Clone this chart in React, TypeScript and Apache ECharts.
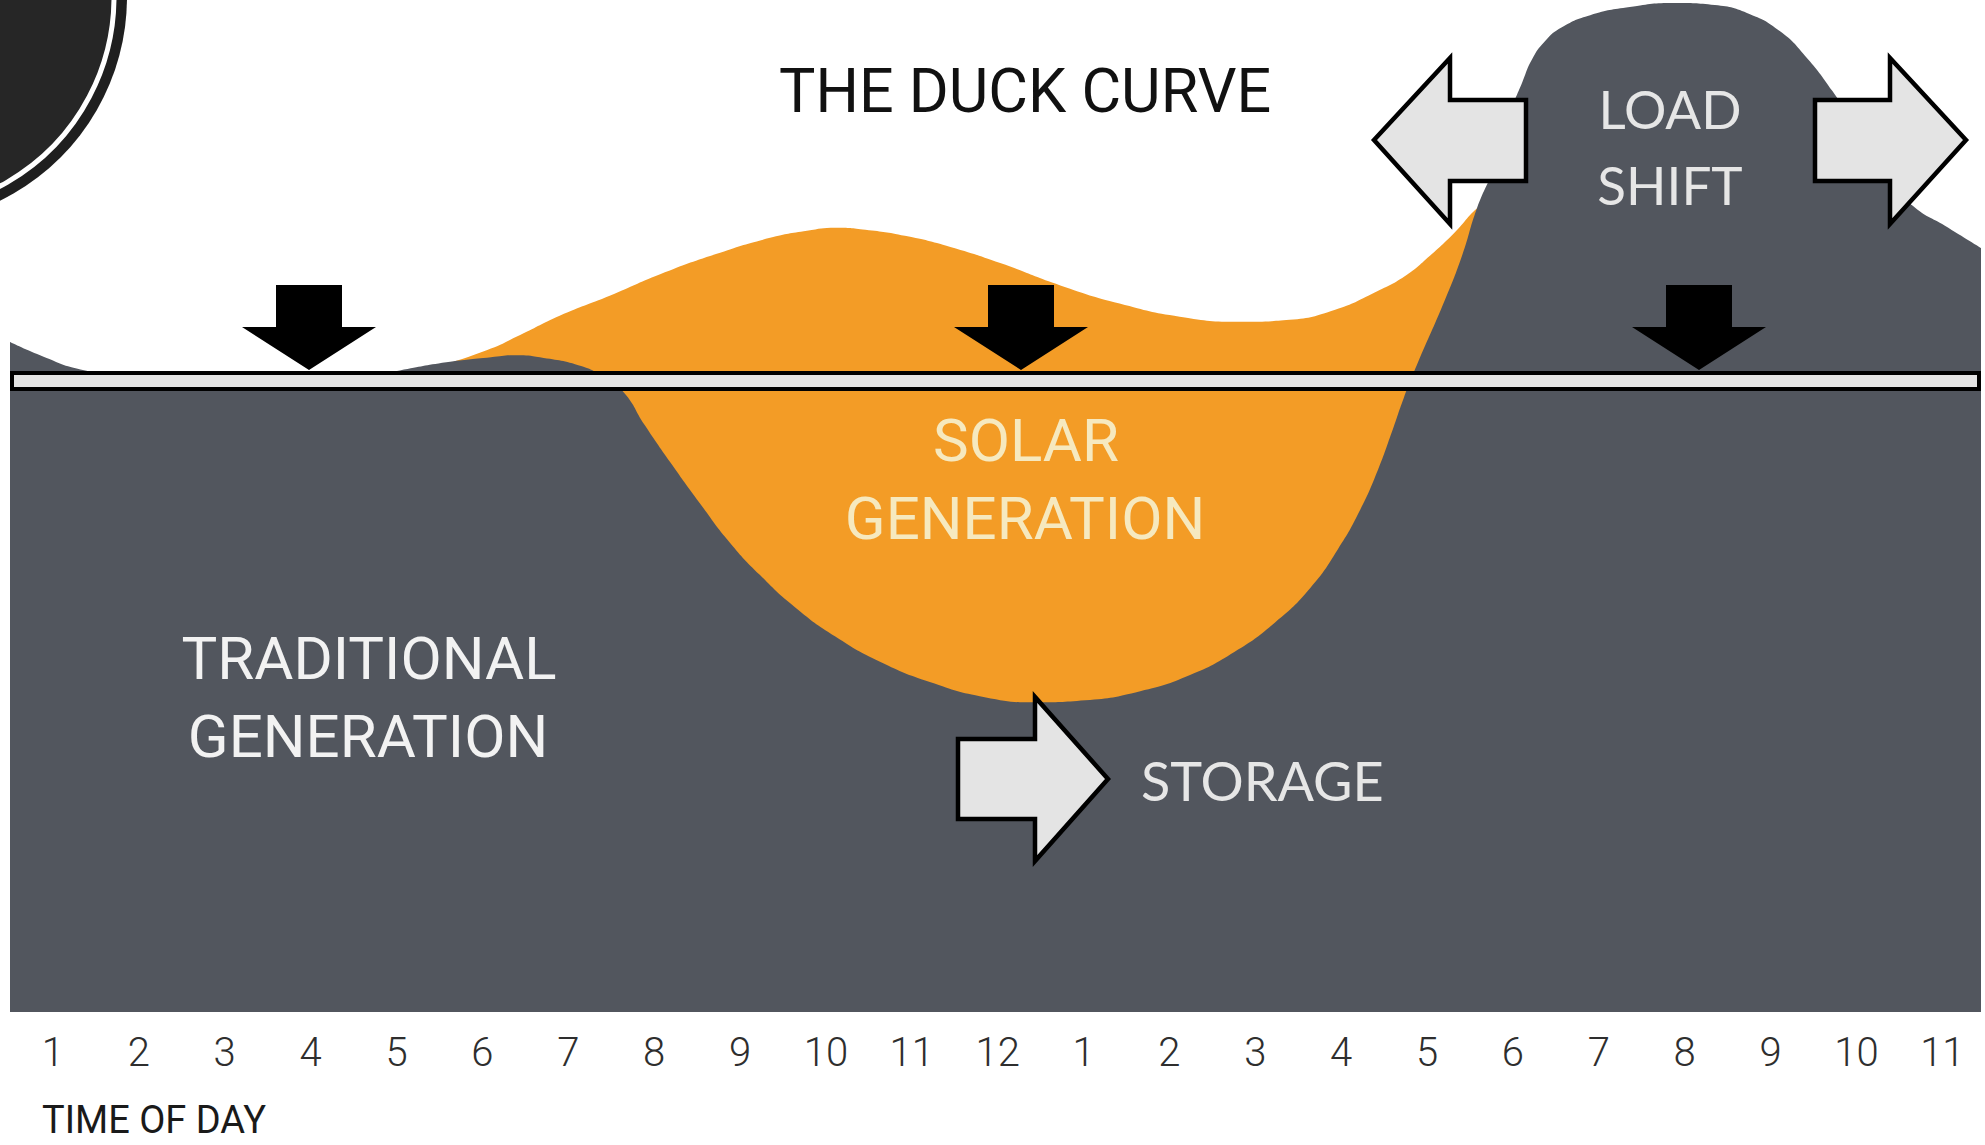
import React, { useEffect, useRef } from "react";
import * as echarts from "echarts";

// Hour positions of the tick labels and their clock text
const tickHours = [1, 2, 3, 4, 5, 6, 7, 8, 9, 10, 11, 12, 13, 14, 15, 16, 17, 18, 19, 20, 21, 22, 23];
const hourLabels = ["1", "2", "3", "4", "5", "6", "7", "8", "9", "10", "11", "12", "1", "2", "3", "4", "5", "6", "7", "8", "9", "10", "11"];

// Net load met by traditional generation (grey area) (0-100 scale)
const netLoadHours = [0.5, 0.85, 1.32, 2.13, 3.29, 4.46, 5.04, 5.58, 6.1, 6.4, 6.67, 7.16, 7.43, 7.65, 7.89, 8.19, 8.53, 8.88, 9.23, 9.64, 10.11, 10.63, 11.21, 11.85, 12.44, 13.02, 13.66, 14.24, 14.76, 15.23, 15.64, 15.96, 16.22, 16.43, 16.59, 16.73, 16.88, 17.21, 17.41, 17.58, 17.79, 17.97, 18.11, 18.22, 18.37, 18.57, 18.9, 19.36, 19.88, 20.35, 20.76, 21.11, 21.4, 21.72, 22.16, 22.45, 22.68, 23.03, 23.45];
const netLoadValues = [66.2, 64.9, 63.5, 62.5, 62.3, 62.5, 63.4, 64.2, 64.7, 64.9, 64.7, 63.8, 62.6, 61.2, 58.0, 54.3, 50.3, 46.4, 43.2, 40.0, 37.1, 34.6, 32.6, 31.1, 30.6, 30.8, 31.7, 33.3, 35.6, 38.5, 41.9, 45.7, 49.6, 53.6, 57.3, 60.7, 63.9, 70.4, 74.8, 79.4, 83.7, 88.9, 91.9, 94.1, 95.9, 97.3, 98.5, 99.3, 99.7, 99.5, 98.6, 96.9, 94.5, 91.0, 85.4, 81.7, 79.5, 77.7, 75.5];

// Total demand (top of the orange solar area)
const demandHours = [5.27, 6.05, 6.44, 6.9, 7.49, 8.07, 8.72, 9.35, 9.78, 10.11, 10.46, 10.92, 11.45, 12.03, 12.73, 13.42, 14.12, 14.82, 15.4, 15.93, 16.39, 16.74, 17.03, 17.33, 17.58, 17.85, 18.32];
const demandValues = [63.2, 65.4, 66.9, 68.8, 70.8, 72.9, 74.9, 76.5, 77.2, 77.5, 77.3, 76.7, 75.6, 74.0, 71.8, 70.0, 68.7, 68.2, 68.4, 69.4, 71.1, 72.7, 74.7, 77.1, 79.4, 81.0, 82.2];

const GREY = "#52565e";
const ORANGE = "#f39c26";
const DIN = "Roboto, 'DejaVu Sans', sans-serif";
const HUMANIST = "Lato, 'Open Sans', sans-serif";

function zip(xs: number[], ys: number[]) {
  return xs.map((x, i) => [x, ys[i]]);
}

function label(text: string, x: number, y: number, size: number, fill: string, family: string, weight: number, align = "center") {
  return {
    type: "text",
    x,
    y,
    z: 20,
    silent: true,
    style: {
      text,
      fill,
      fontSize: size,
      fontFamily: family,
      fontWeight: weight,
      align,
      verticalAlign: "middle",
      textAlign: align,
      textVerticalAlign: "middle",
    },
  };
}

function downArrow(cx: number) {
  return {
    type: "polygon",
    z: 15,
    silent: true,
    shape: {
      points: [
        [cx - 33, 285],
        [cx + 33, 285],
        [cx + 33, 327],
        [cx + 67, 327],
        [cx, 370],
        [cx - 67, 327],
        [cx - 33, 327],
      ],
    },
    style: { fill: "#000" },
  };
}

const arrowStyle = { fill: "#e4e4e4", stroke: "#000", lineWidth: 4.5, lineJoin: "miter" };

export default function App() {
  const ref = useRef<HTMLDivElement>(null);

  useEffect(() => {
    const chart = echarts.init(ref.current as HTMLDivElement, null, { renderer: "svg" });
    const option: any = {
      animation: false,
      backgroundColor: "#ffffff",
      title: {
        text: "THE DUCK CURVE",
        left: 779,
        top: 60,
        padding: 0,
        textStyle: { fontSize: 61, fontWeight: 400, fontFamily: DIN, color: "#111111" },
      },
      grid: { left: 10, right: 4, top: 0, bottom: 133, containLabel: false, outerBoundsMode: "none" },
      xAxis: {
        type: "value",
        min: 0.5,
        max: 23.45,
        axisLine: { show: false },
        axisTick: { show: false },
        splitLine: { show: false },
        axisLabel: {
          customValues: tickHours,
          formatter: (v: number) => hourLabels[Math.round(v) - 1],
          fontSize: 40,
          fontWeight: 300,
          fontFamily: DIN,
          color: "#2e2e2e",
          margin: 20,
        },
      },
      yAxis: { type: "value", min: 0, max: 100, show: false },
      series: [
        {
          name: "Total demand (solar generation)",
          type: "line",
          z: 1,
          data: zip(demandHours, demandValues),
          smooth: 0.5,
          symbol: "none",
          lineStyle: { width: 0 },
          areaStyle: { color: ORANGE, opacity: 1 },
        },
        {
          name: "Traditional generation",
          type: "line",
          z: 2,
          data: zip(netLoadHours, netLoadValues),
          smooth: 0.5,
          symbol: "none",
          lineStyle: { width: 0 },
          areaStyle: { color: GREY, opacity: 1 },
        },
      ],
      graphic: [
        // logo circle in the corner
        { type: "circle", z: 12, silent: true, shape: { cx: -100, cy: -3, r: 227 }, style: { fill: "#1f1f1f" } },
        { type: "circle", z: 13, silent: true, shape: { cx: -100, cy: -3, r: 214 }, style: { fill: "#262626", stroke: "#ffffff", lineWidth: 5 } },
        // horizontal bar
        {
          type: "rect",
          z: 14,
          silent: true,
          shape: { x: 12, y: 373, width: 1967, height: 16 },
          style: { fill: "#e4e4e4", stroke: "#000", lineWidth: 4 },
        },
        downArrow(309),
        downArrow(1021),
        downArrow(1699),
        // load shift arrows
        {
          type: "polygon",
          z: 16,
          silent: true,
          shape: {
            points: [
              [1374, 140],
              [1450, 58],
              [1450, 100],
              [1526, 100],
              [1526, 181],
              [1450, 181],
              [1450, 224],
            ],
          },
          style: arrowStyle,
        },
        {
          type: "polygon",
          z: 16,
          silent: true,
          shape: {
            points: [
              [1966, 140],
              [1890, 58],
              [1890, 100],
              [1815, 100],
              [1815, 181],
              [1890, 181],
              [1890, 224],
            ],
          },
          style: arrowStyle,
        },
        // storage arrow
        {
          type: "polygon",
          z: 16,
          silent: true,
          shape: {
            points: [
              [958, 739],
              [1035, 739],
              [1035, 697],
              [1108, 779],
              [1035, 861],
              [1035, 819],
              [958, 819],
            ],
          },
          style: arrowStyle,
        },
        label("TRADITIONAL", 369, 658, 60, "#f2f2f2", DIN, 400),
        label("GENERATION", 368, 736, 60, "#f2f2f2", DIN, 400),
        label("SOLAR", 1026, 440, 60, "#f6e9bf", DIN, 400),
        label("GENERATION", 1025, 518, 60, "#f6e9bf", DIN, 400),
        label("LOAD", 1670, 108, 53, "#e6e6e6", HUMANIST, 400),
        label("SHIFT", 1670, 184, 53, "#e6e6e6", HUMANIST, 400),
        label("STORAGE", 1141, 780, 54, "#e6e6e6", HUMANIST, 400, "left"),
        label("TIME OF DAY", 42, 1120, 38, "#1a1a1a", DIN, 400, "left"),
      ],
    };
    chart.setOption(option);
    return () => chart.dispose();
  }, []);

  return (
    <div
      ref={ref}
      style={{ position: "absolute", left: 0, top: 0, width: 1985, height: 1145, background: "#ffffff" }}
    />
  );
}
